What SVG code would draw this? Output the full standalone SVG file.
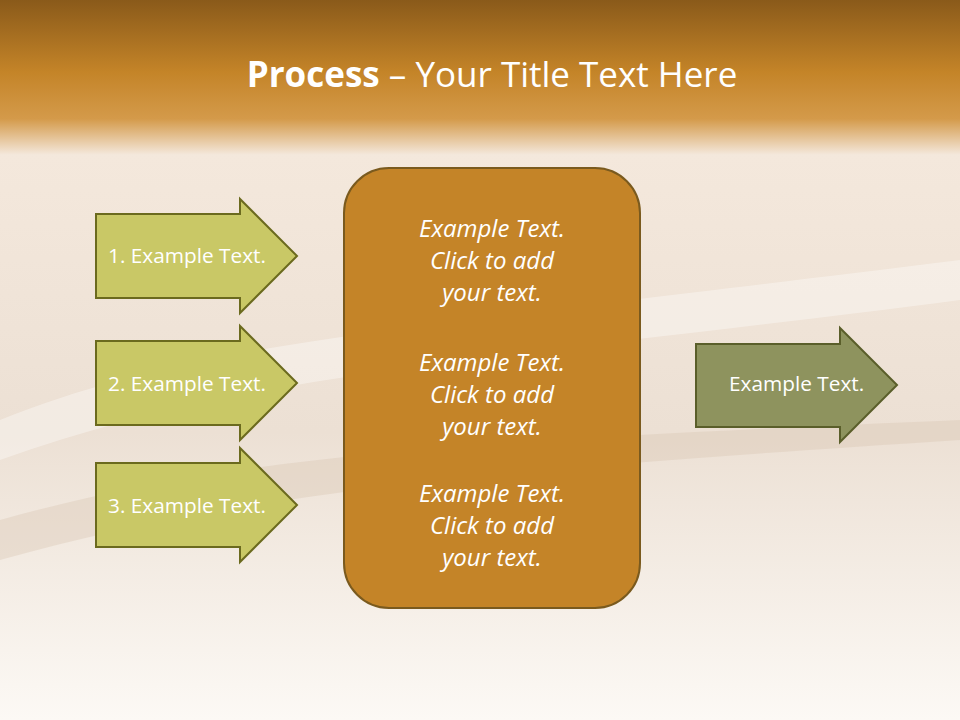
<svg xmlns="http://www.w3.org/2000/svg" width="960" height="720" viewBox="0 0 960 720">
<defs>
<linearGradient id="bg" x1="0" y1="0" x2="0" y2="1">
<stop offset="0" stop-color="#8a5a1a"/>
<stop offset="0.1" stop-color="#c48428"/>
<stop offset="0.165" stop-color="#d49a4a"/>
<stop offset="0.215" stop-color="#f4e8dc"/>
<stop offset="0.6" stop-color="#ece0d4"/>
<stop offset="1" stop-color="#fcf9f5"/>
</linearGradient>
<style>
.ga{fill:#c9c866;stroke:#6b6a1e;stroke-width:2}
.gb{fill:#8e935e;stroke:#5a5e2a;stroke-width:2}
.t{font-family:"Open Sans","Liberation Sans",sans-serif;font-size:20.8px;fill:#fff}
.c{font-family:"Open Sans","Liberation Sans",sans-serif;font-size:24px;fill:#fff;font-style:italic;text-anchor:middle}
</style>
</defs>
<rect width="960" height="720" fill="url(#bg)"/>
<path d="M0 420 C200 340 400 330 960 260 L960 300 C500 360 250 370 0 460Z" fill="#fff" opacity="0.35"/>
<path d="M0 520 C250 450 500 440 960 420 L960 440 C500 470 250 490 0 560Z" fill="#d8c4b0" opacity="0.35"/>
<text x="492" y="87" text-anchor="middle" font-family="'Open Sans','Liberation Sans',sans-serif" font-size="35" fill="#fff"><tspan font-weight="bold">Process</tspan> – Your Title Text Here</text>
<g id="n1"><path class="ga" d="M96 214H240V199L297 256L240 313V298H96Z"/><text class="t" x="108" y="263">1. Example Text.</text></g>
<g id="n2"><path class="ga" d="M96 341H240V326L297 383L240 440V425H96Z"/><text class="t" x="108" y="391">2. Example Text.</text></g>
<g id="n3"><path class="ga" d="M96 463H240V448L297 505L240 562V547H96Z"/><text class="t" x="108" y="513">3. Example Text.</text></g>
<g id="center"><rect x="344" y="168" width="296" height="440" rx="45" fill="#c48428" stroke="#7a5a1e" stroke-width="2"/>
<text class="c" x="492" y="237">Example Text.</text><text class="c" x="492" y="269">Click  to add</text><text class="c" x="492" y="301">your text.</text>
<text class="c" x="492" y="371">Example Text.</text><text class="c" x="492" y="403">Click  to add</text><text class="c" x="492" y="435">your text.</text>
<text class="c" x="492" y="502">Example Text.</text><text class="c" x="492" y="534">Click  to add</text><text class="c" x="492" y="566">your text.</text></g>
<g id="out"><path class="gb" d="M696 344H840V328L897 385L840 442V427H696Z"/><text class="t" x="729" y="391">Example Text.</text></g>
<g id="connectors"/>
</svg>
